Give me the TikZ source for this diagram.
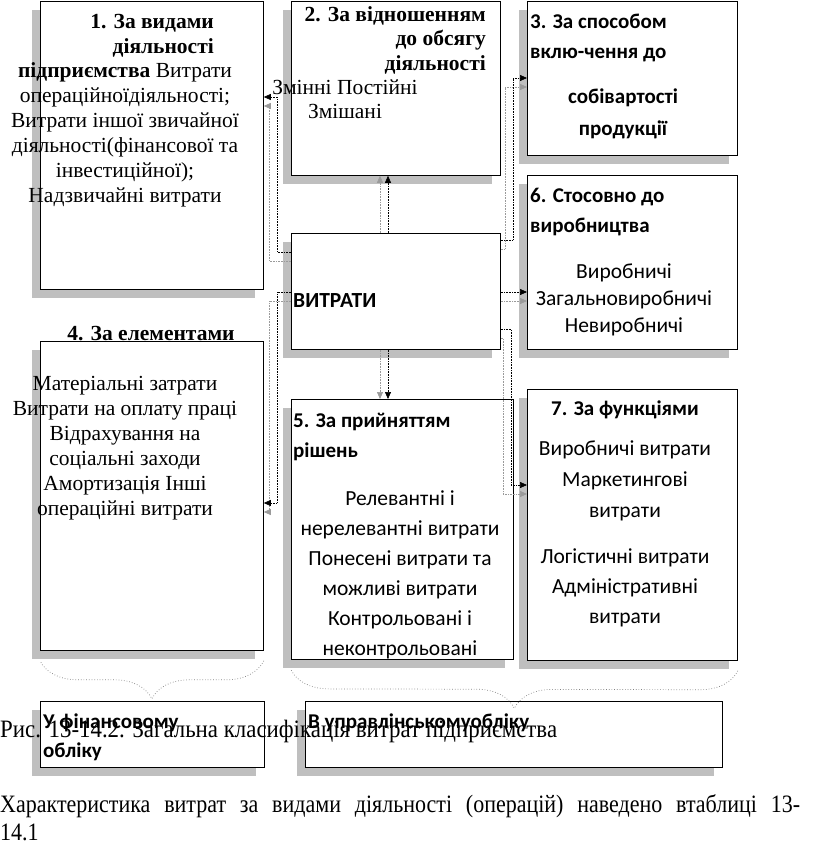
\documentclass[tikz,border=0pt]{standalone}
\usepackage{fontspec}
\setmainfont{Liberation Serif}
\newfontfamily\cbri{Carlito}
\usetikzlibrary{arrows.meta,decorations.pathreplacing,shadows,calc}
\definecolor{shd}{HTML}{BFBFBF}
\definecolor{gline}{HTML}{9A9A9A}
\begin{document}
\begin{tikzpicture}[x=1pt,y=-1pt,
  bx/.style={draw=black,line width=0.8pt,fill=white,anchor=north west,inner sep=0pt,
    drop shadow={shadow xshift=-8pt,shadow yshift=-9pt,fill=shd,opacity=1}},
  sr/.style={font=\fontsize{21.5}{25}\selectfont,inner sep=0pt,align=center},
  srb/.style={font=\bfseries\fontsize{21.5}{25}\selectfont,inner sep=0pt,align=right},
  sn/.style={font=\cbri\fontsize{21.5}{30}\selectfont,inner sep=0pt,align=center},
  snb/.style={font=\cbri\bfseries\fontsize{21}{30}\selectfont,inner sep=0pt,align=left},
  conn/.style={densely dotted,line width=0.6pt,-{Triangle[length=7pt,width=6pt]}},
  gconn/.style={color=gline,shift={(-8,9)}},
  kconn/.style={color=black},
  brc/.style={dotted,line width=0.7pt,color=gray,decorate,decoration={brace,amplitude=38pt,aspect=0.5}}
]
\useasboundingbox (0,0) rectangle (816,849);
\fill[white] (0,0) rectangle (816,849);

% boxes
\node[bx,minimum width=223pt,minimum height=288pt] (b1) at (40,1) {};
\node[bx,minimum width=209pt,minimum height=174pt] (b2) at (291,1) {};
\node[bx,minimum width=210pt,minimum height=154pt] (b3) at (527,1) {};
\node[bx,minimum width=210pt,minimum height=174pt] (b6) at (527,175) {};
\node[bx,minimum width=209pt,minimum height=116pt] (v) at (291,233) {};
\node[bx,minimum width=223pt,minimum height=309pt] (b4) at (40,341) {};
\node[bx,minimum width=222pt,minimum height=260pt] (b5) at (291,399) {};
\node[bx,minimum width=210pt,minimum height=271pt] (b7) at (527,389) {};
\node[bx,minimum width=224pt,minimum height=66pt] (b8) at (40,701) {};
\node[bx,minimum width=417pt,minimum height=66pt] (b9) at (305,701) {};

% box 1 text (anchors at last line baseline)
\node[srb,anchor=base east] (t1a) at (214,53) {1. За видами\\діяльності};
\node[sr,anchor=base] (t1b) at (125,202) {\textbf{підприємства} Витрати\\операційноїдіяльності;\\Витрати іншої звичайної\\діяльності(фінансової та\\інвестиційної);\\Надзвичайні витрати};

% box 2 text
\node[srb,font=\bfseries\fontsize{21.5}{24.5}\selectfont,anchor=base east] (t2a) at (486,70) {2. За відношенням\\до обсягу\\діяльності};
\node[sr,font=\fontsize{21.5}{23.5}\selectfont,anchor=base] (t2b) at (345,118) {Змінні Постійні\\Змішані};

% box 3 text
\node[snb,anchor=base west] (t3a) at (530,58) {3. За способом\\вклю-чення до};
\node[sn,font=\cbri\bfseries\fontsize{21}{32}\selectfont,anchor=base] (t3b) at (623,135) {собівартості\\продукції};

% box 6 text
\node[snb,anchor=base west] (t6a) at (530,232) {6. Стосовно до\\виробництва};
\node[sn,font=\cbri\fontsize{21.5}{27}\selectfont,anchor=base] (t6b) at (624,332) {Виробничі\\Загальновиробничі\\Невиробничі};

% center text
\node[snb,font=\cbri\bfseries\fontsize{21.5}{24}\selectfont,anchor=base west] (tv) at (293,307) {ВИТРАТИ};

% box 4 text
\node[sr,font=\bfseries\fontsize{21.5}{25}\selectfont,anchor=base] (t4a) at (151,340) {4. За елементами};
\node[sr,anchor=base] (t4b) at (125,515) {Матеріальні затрати\\Витрати на оплату праці\\Відрахування на\\соціальні заходи\\Амортизація Інші\\операційні витрати};

% box 5 text
\node[snb,anchor=base west] (t5a) at (293,457) {5. За прийняттям\\рішень};
\node[sn,anchor=base] (t5b) at (400,655) {Релевантні і\\нерелевантні витрати\\Понесені витрати та\\можливі витрати\\Контрольовані і\\неконтрольовані};

% box 7 text
\node[snb,anchor=base] (t7a) at (625,415) {7. За функціями};
\node[sn,font=\cbri\fontsize{21.5}{31}\selectfont,anchor=base] (t7b) at (625,517) {Виробничі витрати\\Маркетингові\\витрати};
\node[sn,anchor=base] (t7c) at (625,623) {Логістичні витрати\\Адміністративні\\витрати};

% bottom boxes text
\node[snb,font=\cbri\bfseries\fontsize{21}{29}\selectfont,anchor=base west] (t8) at (43,757) {У фінансовому\\обліку};
\node[snb,anchor=base west] (t9) at (308,728) {В управлінськомуобліку};

% connectors (shadow copy first, then black)
\foreach \st in {gconn,kconn}{
  \begin{scope}[\st]
    \draw[conn] (388,0 |- v.north) -- (388,0 |- b2.south);
    \draw[conn] (388,0 |- v.south) -- (388,0 |- b5.north);
    \draw[conn] (v.west |- 0,252) -- (277,252) -- (277,97) -- (b1.east |- 0,97);
    \draw[conn] (v.west |- 0,292) -- (277,292) -- (277,503) -- (b4.east |- 0,503);
    \draw[conn] (v.east |- 0,240) -- (513,240) -- (513,78) -- (b3.west |- 0,78);
    \draw[conn] (v.east |- 0,292) -- (b6.west |- 0,292);
    \draw[conn] (v.east |- 0,329) -- (511,329) -- (511,485) -- (b7.west |- 0,485);
  \end{scope}
}

% braces
\coordinate (br1a) at ($(b4.south east)+(0,10)$);
\coordinate (br1b) at ($(b4.south west)+(0,10)$);
\coordinate (br2a) at ($(b7.south east)+(0,10)$);
\coordinate (br2b) at ($(b5.south west)+(0,10)$);
\draw[brc] (br1a) -- (br1b);
\draw[brc] (br2a) -- (br2b);

% caption and paragraph
\node[inner sep=0pt,anchor=base west] (cap) at (0,737) {\fontsize{25}{28}\selectfont\scalebox{0.915}[1]{Рис. 13-14.2. Загальна класифікація витрат підприємства}};
\node[inner sep=0pt,anchor=base west] (par1) at (0,812) {\fontsize{25}{28}\selectfont\scalebox{0.88}[1]{\makebox[909pt][s]{Характеристика витрат за видами діяльності (операцій) наведено втаблиці 13-}}};
\node[inner sep=0pt,anchor=base west] (par2) at (0,840) {\fontsize{25}{28}\selectfont\scalebox{0.88}[1]{14.1}};
\end{tikzpicture}
\end{document}
